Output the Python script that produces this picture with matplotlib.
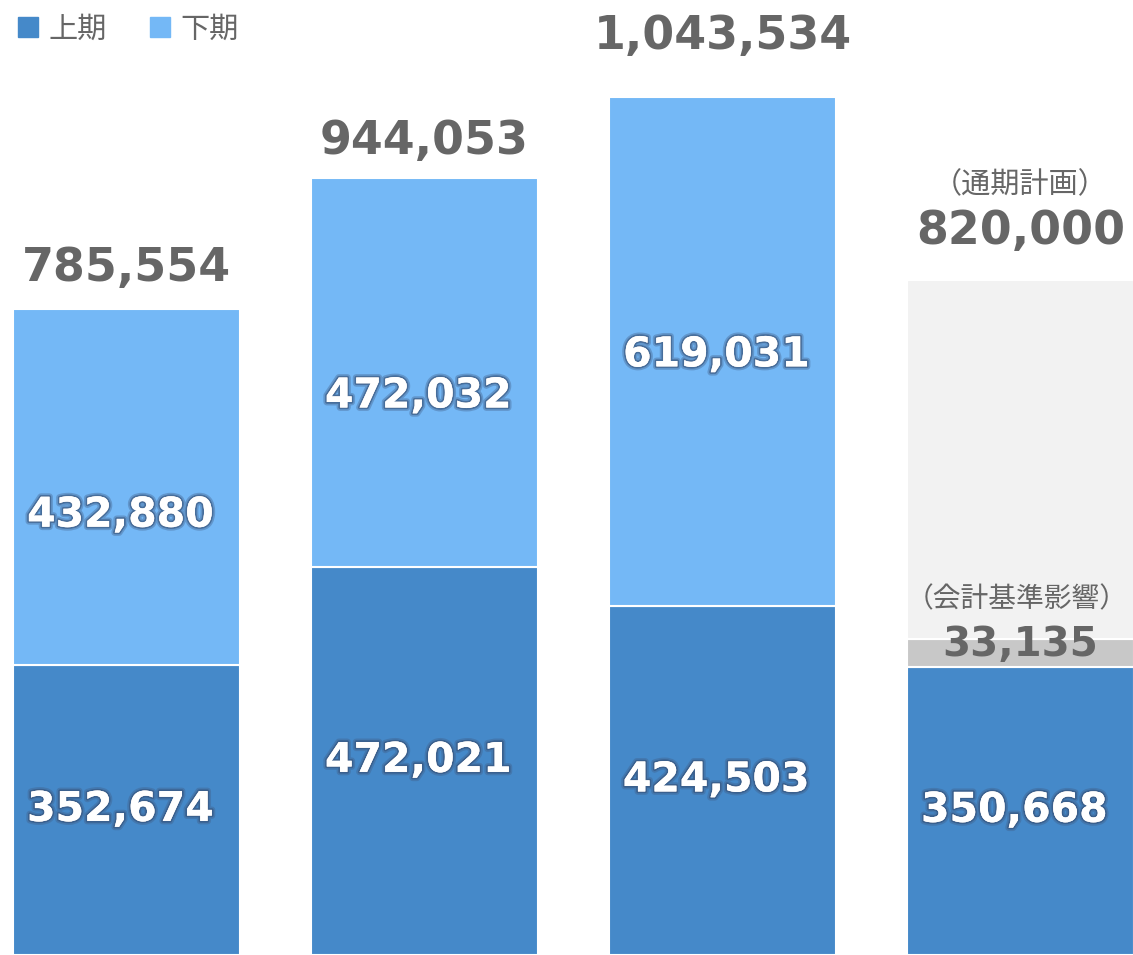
import matplotlib
matplotlib.use('Agg')
import matplotlib.pyplot as plt
import matplotlib.patheffects as pe
from matplotlib.lines import Line2D

plt.rcParams['font.family'] = ['DejaVu Sans', 'Noto Sans CJK JP']

# 売上データ（上期・下期・合計）
first_half = [352674, 472021, 424503, 350668]
second_half = [432880, 472032, 619031, 0]
totals = [785554, 944053, 1043534, 820000]
accounting_impact = 33135
plan_total = 820000

DARK_BLUE = '#4589c9'
LIGHT_BLUE = '#74b8f6'
GREY_TXT = '#666666'

fig = plt.figure(figsize=(11.33, 9.55), dpi=100)
ax = fig.add_axes([0, 0, 1, 1])

x = list(range(len(first_half)))
w = 0.762

ax.bar(x, first_half, width=w, color=DARK_BLUE, edgecolor='white', linewidth=1.5)
ax.bar(x[:3], second_half[:3], width=w, bottom=first_half[:3], color=LIGHT_BLUE,
       edgecolor='white', linewidth=1.5)
# 通期計画の棒（会計基準影響＋残り）
ax.bar(x[3], accounting_impact, width=w, bottom=first_half[3], color='#c8c8c8',
       edgecolor='white', linewidth=1.5)
rest = plan_total - first_half[3] - accounting_impact
ax.bar(x[3], rest, width=w, bottom=first_half[3] + accounting_impact,
       color='#f2f2f2', edgecolor='white', linewidth=1.5)

ax.set_xlim(-0.4245, 3.378)
ax.set_ylim(0, 1161000)
ax.axis('off')

glow = [pe.withStroke(linewidth=5, foreground=(0.25, 0.35, 0.5, 0.35)),
        pe.withStroke(linewidth=2.5, foreground=(0.2, 0.3, 0.45, 0.55)),
        pe.Normal()]

# 上期ラベル（中央）
for xi, v in zip(x, first_half):
    ax.text(xi - 0.02, v / 2, f'{v:,}', ha='center', va='center', color='white',
            fontsize=29.5, fontweight='bold', path_effects=glow)

# 下期ラベル
upper_shift = [-35000, -29000, -5000]
for xi, b, v, s in zip(x[:3], first_half[:3], second_half[:3], upper_shift):
    ax.text(xi - 0.02, b + v / 2 + s, f'{v:,}', ha='center', va='center', color='white',
            fontsize=29.5, fontweight='bold', path_effects=glow)

# 合計ラベル
total_gap = [18, 14, 38, 26]
for xi, t, g in zip(x, totals, total_gap):
    ax.annotate(f'{t:,}', (xi, t), xytext=(0, g), textcoords='offset pixels',
                ha='center', va='bottom', color=GREY_TXT, fontsize=33, fontweight='bold')

ax.annotate('（通期計画）', (x[3], plan_total), xytext=(0, 95), textcoords='offset pixels',
            ha='center', va='center', color=GREY_TXT, fontsize=21,
            family=['Noto Sans CJK JP'])
ax.annotate('（会計基準影響）', (x[3], first_half[3] + accounting_impact),
            xytext=(-4, 40), textcoords='offset pixels', ha='center', va='center',
            color=GREY_TXT, fontsize=20, family=['Noto Sans CJK JP'])
ax.annotate(f'{accounting_impact:,}', (x[3], first_half[3] + accounting_impact / 2),
            xytext=(0, 8), textcoords='offset pixels', ha='center', va='center',
            color=GREY_TXT, fontsize=29, fontweight='bold')

handles = [Line2D([], [], ls='none', marker='s', markersize=14, color=DARK_BLUE),
           Line2D([], [], ls='none', marker='s', markersize=14, color=LIGHT_BLUE)]
leg = ax.legend(handles, ['上期', '下期'], loc='upper left', bbox_to_anchor=(0.0, 1.0),
                ncol=2, frameon=False, handletextpad=0.25,
                columnspacing=1.4, handlelength=0.9, borderaxespad=0.1,
                prop={'family': ['Noto Sans CJK JP'], 'size': 21})
for t in leg.get_texts():
    t.set_color(GREY_TXT)

fig.savefig('out.png', dpi=100)
